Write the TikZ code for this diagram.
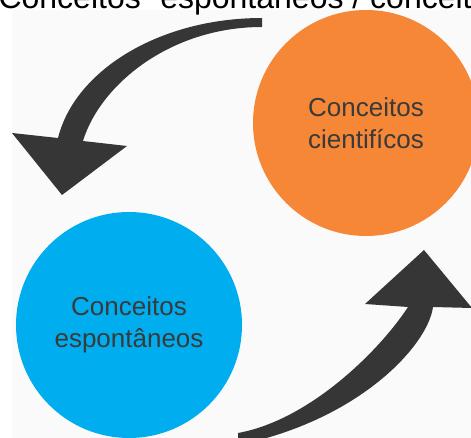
\documentclass[tikz,border=0pt]{standalone}
\usepackage{xcolor}
\usepackage{fontspec}
\setmainfont{Liberation Sans}
\usetikzlibrary{positioning}
\definecolor{laranja}{RGB}{245,135,55}
\definecolor{azul}{RGB}{0,174,239}
\definecolor{cinzaseta}{RGB}{54,54,54}
\definecolor{texto}{RGB}{58,58,58}
\definecolor{fundo}{RGB}{250,250,250}

\begin{document}
\begin{tikzpicture}[x=1pt, y=-1pt, on grid,
        conceito/.style={circle, minimum size=226pt, inner sep=0pt, align=center,
                         text=texto, font=\fontsize{26}{32}\selectfont},
        setacurva/.style={fill=cinzaseta}]
        \clip (0,0) rectangle (471,438);
        \fill[fundo] (12,10) rectangle (471,438);
        \node[anchor=base west, font=\fontsize{32}{38}\selectfont] (titulo) at (-5,9)
          {Conceitos “espontâneos / conceitos científicos”};
        \node[conceito, fill=laranja] (cientificos) at (366,123)                       {Conceitos\\cientifícos};
        \node[conceito, fill=azul]    (espontaneos) [below left=202pt and 237pt of cientificos] {Conceitos\\espontâneos};
        % setas
        \fill[setacurva] (262,18) .. controls (160,18) and (75,70) .. (58,138)
          -- (12,133) -- (62,195) -- (127,146) -- (83,141)
          .. controls (100,85) and (170,27) .. (262,27) -- cycle;
        \fill[setacurva] (238,433) .. controls (310,420) and (380,350) .. (408,307)
          -- (365,304) -- (424,250) -- (472,308) -- (433,307)
          .. controls (428,345) and (360,420) .. (238,445) -- cycle;
\end{tikzpicture}
\end{document}
